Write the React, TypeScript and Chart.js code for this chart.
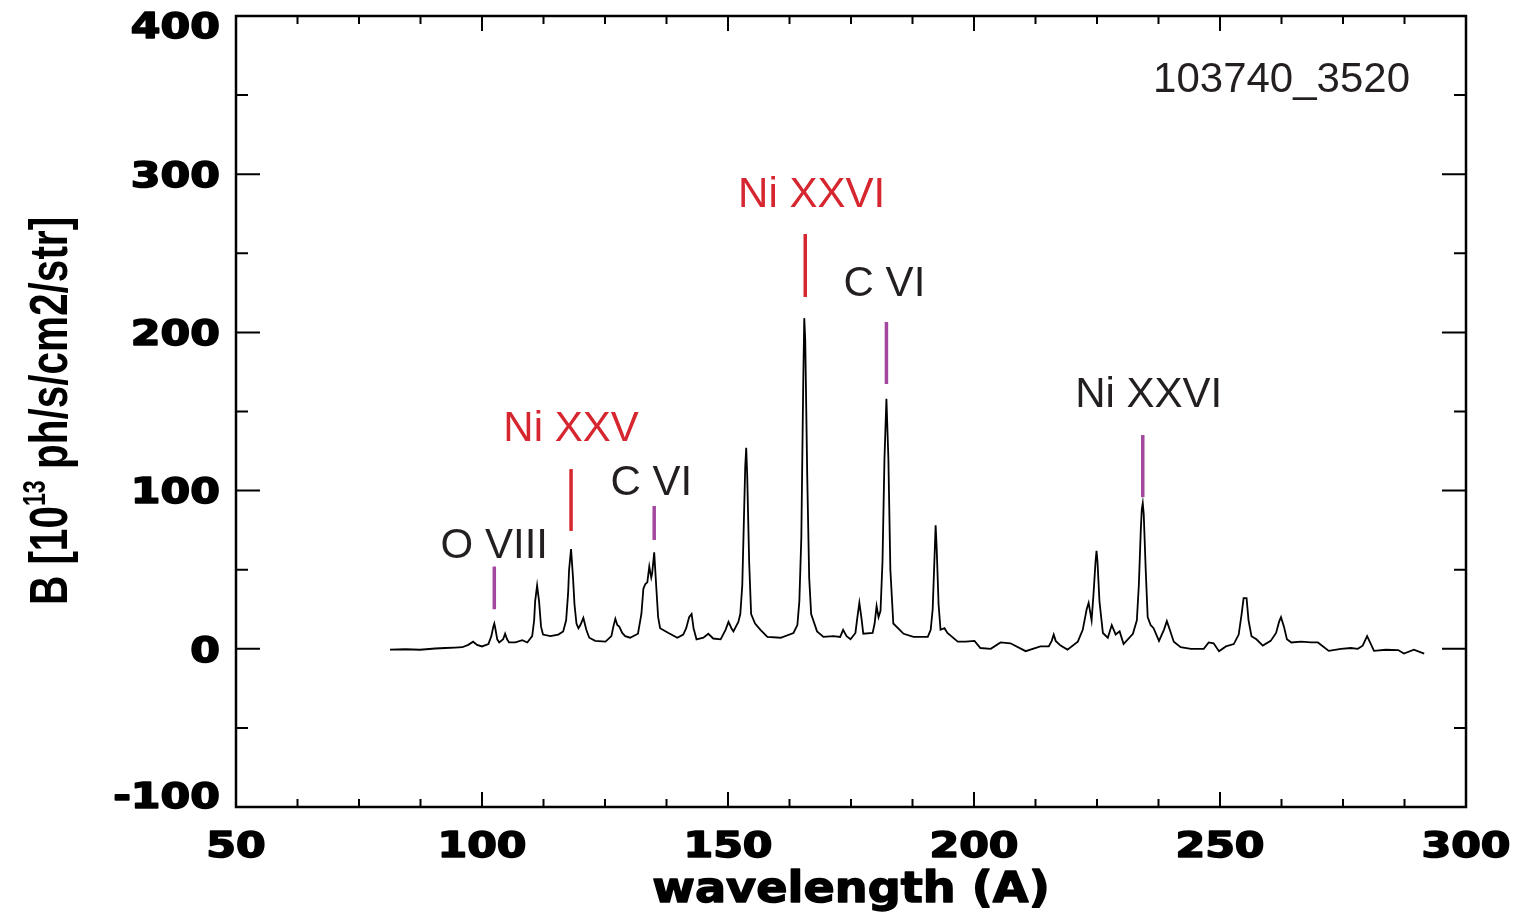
import React, { useEffect, useRef } from "react";
import { Chart, registerables } from "chart.js";

Chart.register(...registerables);

// ---- data ----
const wavelength = [
  81.3, 84.4, 87.4, 90.5, 92.5, 94.5, 96.0, 97.2, 98.2, 99.0, 100.0, 101.3, 101.9, 102.3, 102.5, 102.7, 103.1, 103.5,
  104.3, 104.7, 105.1, 105.5, 106.8, 108.2, 109.2, 110.2, 110.6, 110.8, 111.2, 111.6, 112.0, 112.4, 113.9, 115.5,
  116.5, 117.1, 117.5, 117.7, 118.1, 118.5, 118.8, 119.2, 119.6, 120.0, 120.6, 121.2, 121.8, 123.0, 125.1, 126.3,
  126.7, 127.1, 127.5, 127.9, 128.5, 129.1, 130.1, 131.7, 132.4, 132.8, 133.2, 133.6, 134.0, 134.4, 134.6, 135.0,
  135.4, 135.8, 136.2, 137.9, 139.7, 140.9, 141.5, 142.1, 142.6, 143.0, 143.6, 145.0, 146.0, 147.0, 148.5, 149.5,
  150.1, 150.7, 151.1, 152.1, 152.5, 152.9, 153.3, 153.5, 153.7, 153.9, 154.3, 154.7, 155.5, 156.6, 158.0, 160.7,
  163.3, 164.1, 164.5, 164.9, 165.3, 165.5, 165.7, 166.1, 166.5, 166.9, 168.1, 169.4, 171.4, 172.8, 173.4, 174.1,
  174.9, 175.9, 176.3, 176.7, 177.1, 177.5, 179.4, 179.8, 180.2, 180.6, 181.0, 181.4, 181.8, 182.2, 182.6, 183.0,
  183.6, 185.7, 187.7, 190.6, 191.2, 191.6, 192.0, 192.2, 192.4, 192.8, 193.2, 194.0, 194.6, 196.7, 198.3, 200.1,
  201.3, 203.4, 205.4, 207.4, 210.5, 213.5, 215.2, 215.8, 216.2, 216.6, 217.6, 219.0, 221.1, 222.1, 222.9, 223.3,
  223.9, 224.3, 224.7, 224.9, 225.1, 225.5, 226.2, 227.2, 228.0, 228.8, 229.6, 230.4, 232.3, 233.1, 233.5, 233.9,
  234.1, 234.3, 234.5, 234.9, 235.3, 235.9, 236.5, 237.6, 238.6, 239.2, 239.8, 240.6, 242.0, 244.1, 246.7, 247.7,
  248.7, 249.8, 251.2, 252.8, 253.8, 254.4, 254.8, 255.4, 255.8, 256.4, 257.4, 258.7, 260.3, 261.4, 262.0, 262.4,
  263.0, 263.6, 264.5, 266.5, 268.5, 269.9, 272.1, 274.6, 276.6, 278.0, 279.0, 279.9, 280.5, 281.3, 283.7, 286.2,
  287.4, 289.4, 291.5,
];

const brightness = [
  -0.5, -0.3, -0.6, 0.2, 0.5, 0.8, 1.0, 2.5, 4.5, 2.5, 1.5, 3, 8, 14, 16, 13, 6, 4,
  6, 9.5, 6, 4, 4, 5.5, 4, 8, 18, 30, 40, 30, 14, 9, 8, 9,
  11, 18, 35, 50, 63, 45, 28, 16, 13, 15, 19.5, 12, 7, 5, 4.5, 8,
  14, 19, 15, 14, 10, 8, 7, 9.5, 22, 38, 41, 42, 52, 45, 48, 61,
  40, 20, 13, 10, 7, 9, 13, 20, 22, 13, 6, 7, 9.5, 6.5, 6, 12,
  17, 13, 11, 17, 22, 40, 90, 115, 127, 110, 55, 22, 16, 12, 7.5, 7,
  10, 15, 30, 70, 170, 209, 195, 110, 45, 22, 11, 7.5, 8, 7.5, 12, 8,
  6, 10, 20, 29, 20, 9.5, 10, 16, 27, 20, 24, 55, 120, 158, 120, 50,
  16, 9.5, 7.5, 7.5, 12, 25, 60, 78, 65, 28, 12, 13, 10, 4.5, 4.5, 5,
  0.5, 0, 4, 3.5, -1.5, 1.5, 1.5, 5, 9, 5, 2, -0.5, 4.5, 12, 25, 29,
  18, 35, 55, 62, 55, 30, 10, 7, 15, 9, 11, 3, 9.5, 18, 40, 75,
  88, 92, 85, 50, 20, 15, 13, 5, 12, 17.5, 12, 4.5, 1, 0, 0, 4,
  3.5, -1.5, 1.5, 3, 9, 22, 32, 32, 18, 8, 6, 2, 5, 10, 17, 20,
  14, 6, 4, 4.5, 4, 4, -1.3, 0, 0.5, 0, 2, 8, 4, -1.3, -0.6, -0.8,
  -3, -0.6, -3,
];

const xTickLabels = [50, 100, 150, 200, 250, 300];
const yTickLabels = [-100, 0, 100, 200, 300, 400];
const xMinorStep = 12.5;
const yMinorStep = 50;

const lineNames = ["O VIII", "Ni XXV", "C VI", "Ni XXVI", "C VI", "Ni XXVI"];
const lineWavelengths = [102.5, 118.1, 135.0, 165.7, 182.2, 234.3];
const markerLow = [25, 74.5, 68.8, 222.4, 167.4, 95.9];
const markerHigh = [52, 113.6, 90.3, 262.2, 206.6, 135.1];
const labelWavelengths = [102.5, 118.1, 134.4, 167.0, 181.8, 235.5];
const labelHeights = [57.4, 131.4, 97.2, 279.3, 223.0, 152.8];
const isNickelHighlight = [false, true, false, true, false, false];

const xTitle = "wavelength (A)";
const runId = "103740_3520";

const RED = "#d6262f";
const PURPLE = "#a3479f";
const DARK = "#231f20";

function wideText(ctx: CanvasRenderingContext2D, text: string, x: number, y: number, sx: number, align: CanvasTextAlign, heavy = 0) {
  ctx.save();
  ctx.translate(x, y);
  ctx.scale(sx, 1);
  ctx.textAlign = align;
  ctx.textBaseline = "alphabetic";
  ctx.fillText(text, 0, 0);
  if (heavy > 0) {
    ctx.lineWidth = heavy;
    ctx.lineJoin = "round";
    ctx.strokeStyle = ctx.fillStyle as string;
    ctx.strokeText(text, 0, 0);
  }
  ctx.restore();
}

const idlAxes = {
  id: "idlAxes",
  afterDraw(chart: any) {
    const ctx: CanvasRenderingContext2D = chart.ctx;
    const a = chart.chartArea;
    const xs = chart.scales.x;
    const ys = chart.scales.y;
    ctx.save();

    // frame
    ctx.strokeStyle = "#000";
    ctx.lineWidth = 2.5;
    ctx.strokeRect(a.left, a.top, a.right - a.left, a.bottom - a.top);

    // ticks
    ctx.lineWidth = 2;
    ctx.beginPath();
    for (let v = xs.min; v <= xs.max + 1e-6; v += xMinorStep) {
      const px = xs.getPixelForValue(v);
      const major = Math.abs(v % 50) < 1e-6;
      const len = major ? 15 : 8;
      ctx.moveTo(px, a.bottom);
      ctx.lineTo(px, a.bottom - len);
      ctx.moveTo(px, a.top);
      ctx.lineTo(px, a.top + len);
    }
    for (let v = ys.min; v <= ys.max + 1e-6; v += yMinorStep) {
      const py = ys.getPixelForValue(v);
      const major = Math.abs(v % 100) < 1e-6;
      const len = major ? 24 : 12;
      ctx.moveTo(a.left, py);
      ctx.lineTo(a.left + len, py);
      ctx.moveTo(a.right, py);
      ctx.lineTo(a.right - len, py);
    }
    ctx.stroke();

    // tick labels
    ctx.fillStyle = "#000";
    ctx.font = "bold 35px 'DejaVu Sans'";
    const capHalf = 0.729 * 35 / 2;
    for (const v of yTickLabels) {
      const py = ys.getPixelForValue(v);
      const cy = Math.min(Math.max(py, a.top + 9), a.bottom - 12);
      wideText(ctx, String(v), 220, cy + capHalf, 1.22, "right", 1.6);
    }
    for (const v of xTickLabels) {
      const px = xs.getPixelForValue(v);
      wideText(ctx, String(v), px, 844 + capHalf, 1.22, "center", 1.6);
    }

    // x title
    ctx.font = "bold 42px 'DejaVu Sans'";
    wideText(ctx, xTitle, (a.left + a.right) / 2, 902, 1.1, "center", 1.4);

    // y title (rotated, with superscript)
    ctx.save();
    ctx.translate(67, 411);
    ctx.rotate(-Math.PI / 2);
    ctx.scale(0.75, 1);
    ctx.textAlign = "left";
    ctx.textBaseline = "alphabetic";
    const mainFont = "bold 54px 'Liberation Sans'";
    const supFont = "bold 31px 'Liberation Sans'";
    const p1 = "B [10";
    const p2 = "13";
    const p3 = " ph/s/cm2/str]";
    ctx.font = mainFont;
    const w1 = ctx.measureText(p1).width;
    const w3 = ctx.measureText(p3).width;
    ctx.font = supFont;
    const w2 = ctx.measureText(p2).width;
    let sx = -(w1 + w2 + w3) / 2;
    ctx.font = mainFont;
    ctx.fillText(p1, sx, 0);
    sx += w1;
    ctx.font = supFont;
    ctx.fillText(p2, sx, -22);
    sx += w2;
    ctx.font = mainFont;
    ctx.fillText(p3, sx, 0);
    ctx.restore();

    // line identifications
    ctx.lineWidth = 3.5;
    ctx.lineCap = "butt";
    ctx.font = "42px 'Liberation Sans'";
    ctx.textAlign = "center";
    ctx.textBaseline = "alphabetic";
    for (let i = 0; i < lineNames.length; i++) {
      const px = xs.getPixelForValue(lineWavelengths[i]);
      ctx.strokeStyle = isNickelHighlight[i] ? RED : PURPLE;
      ctx.beginPath();
      ctx.moveTo(px, ys.getPixelForValue(markerLow[i]));
      ctx.lineTo(px, ys.getPixelForValue(markerHigh[i]));
      ctx.stroke();
      ctx.fillStyle = isNickelHighlight[i] ? RED : DARK;
      ctx.fillText(lineNames[i], xs.getPixelForValue(labelWavelengths[i]), ys.getPixelForValue(labelHeights[i]));
    }

    // run id
    ctx.fillStyle = DARK;
    ctx.textAlign = "right";
    ctx.fillText(runId, 1410, 92);

    ctx.restore();
  },
};

export default function App() {
  const ref = useRef<HTMLCanvasElement | null>(null);
  useEffect(() => {
    if (!ref.current) return;
    const chart = new Chart(ref.current, {
      type: "line",
      data: {
        datasets: [
          {
            data: wavelength.map((w, i) => ({ x: w, y: brightness[i] })),
            borderColor: "#000",
            borderWidth: 1.8,
            pointRadius: 0,
            tension: 0,
            fill: false,
          },
        ],
      },
      options: {
        animation: false,
        responsive: false,
        devicePixelRatio: 1,
        layout: { padding: { left: 236, top: 16, right: 58, bottom: 106 } },
        scales: {
          x: { type: "linear", min: 50, max: 300, display: false },
          y: { type: "linear", min: -100, max: 400, display: false },
        },
        plugins: { legend: { display: false }, tooltip: { enabled: false } },
      },
      plugins: [idlAxes],
    } as any);
    return () => chart.destroy();
  }, []);
  return (
    <div style={{ position: "absolute", left: 0, top: 0, width: 1524, height: 913, background: "#fff" }}>
      <canvas ref={ref} width={1524} height={913} />
    </div>
  );
}
